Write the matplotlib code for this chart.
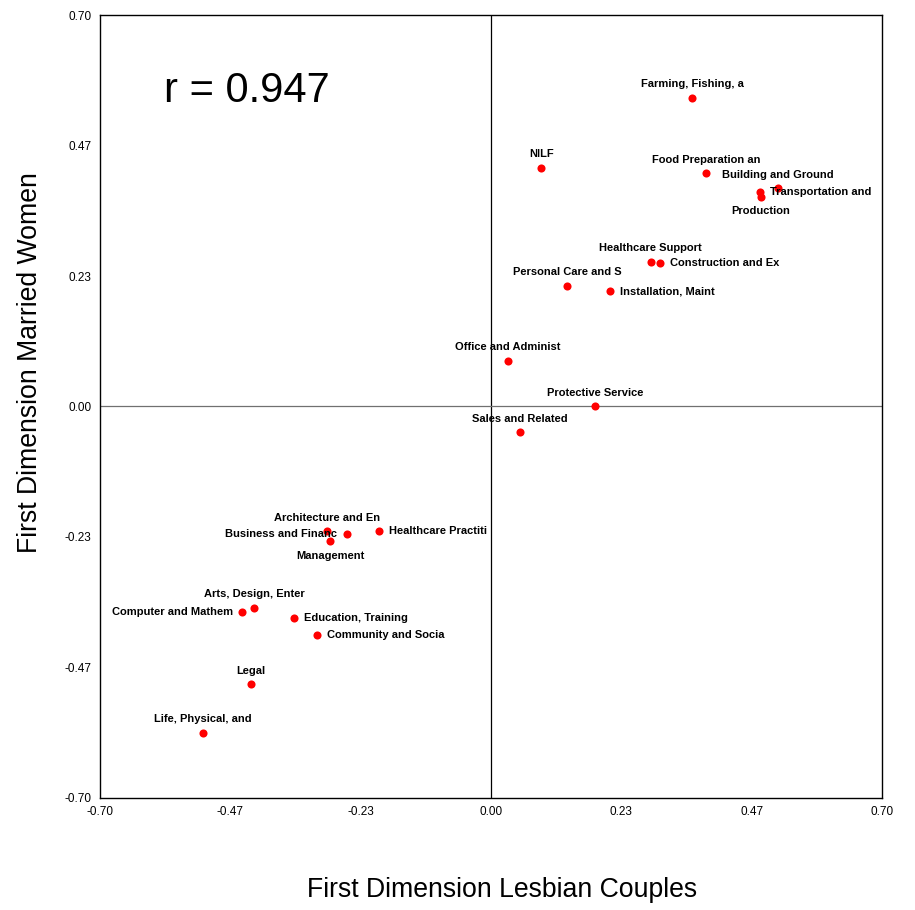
import numpy as np
import matplotlib
matplotlib.use("Agg")
import matplotlib.pyplot as plt

plt.rcParams['font.family'] = ['Liberation Sans', 'DejaVu Sans']

# occupation groups, lesbian couples (x) vs married women (y)
occupations = [
    "Farming, Fishing, a", "NILF", "Food Preparation an", "Building and Ground",
    "Transportation and", "Production", "Healthcare Support", "Construction and Ex",
    "Personal Care and S", "Installation, Maint", "Office and Administ",
    "Protective Service", "Sales and Related", "Architecture and En",
    "Business and Financ", "Management", "Healthcare Practiti",
    "Arts, Design, Enter", "Computer and Mathem", "Education, Training",
    "Community and Socia", "Legal", "Life, Physical, and",
]
lesbian = [0.360, 0.090, 0.385, 0.514, 0.482, 0.483, 0.286, 0.303, 0.136, 0.213,
           0.030, 0.186, 0.052, -0.294, -0.258, -0.288, -0.200, -0.424, -0.445,
           -0.352, -0.311, -0.430, -0.516]
married = [0.552, 0.427, 0.417, 0.390, 0.383, 0.375, 0.259, 0.256, 0.216, 0.206,
           0.082, 0.000, -0.046, -0.223, -0.228, -0.241, -0.222, -0.360, -0.368,
           -0.379, -0.408, -0.497, -0.583]
# where each label sits relative to its point
placement = ["above", "above", "above", "above", "right", "below", "above", "right",
             "above", "right", "above", "above", "above", "above", "left", "below",
             "right", "above", "left", "right", "right", "above", "above"]

r_value = 0.947
ticks = [-0.70, -0.47, -0.23, 0.00, 0.23, 0.47, 0.70]

fig = plt.figure(figsize=(9.15, 9.10), dpi=100)
ax = fig.add_axes([0.1093, 0.1231, 0.8547, 0.8604])

ax.axvline(0, color="black", lw=0.9, zorder=1)
ax.axhline(0, color="#707070", lw=0.9, zorder=1)
ax.scatter(lesbian, married, s=34, color="#ff0000", zorder=3, linewidths=0)

offsets = {"above": ((0, 6), "center", "bottom"),
           "below": ((0, -7), "center", "top"),
           "right": ((7, 0), "left", "center"),
           "left": ((-7, 0), "right", "center")}
for name, x, y, p in zip(occupations, lesbian, married, placement):
    off, ha, va = offsets[p]
    ax.annotate(name, (x, y), xytext=off, textcoords="offset points",
                ha=ha, va=va, fontsize=8, fontweight="bold", zorder=4)

tick_pos = np.array([-3, -2, -1, 0, 1, 2, 3]) * 0.7 / 3
ax.set_xlim(-0.7, 0.7)
ax.set_ylim(-0.7, 0.7)
ax.set_xticks(tick_pos)
ax.set_yticks(tick_pos)
ax.set_xticklabels([f"{t:.2f}" for t in ticks])
ax.set_yticklabels([f"{t:.2f}" for t in ticks])
ax.tick_params(length=0, labelsize=8.5, pad=6)
for sp in ax.spines.values():
    sp.set_linewidth(1.0)

fig.text(0.549, 0.022, "First Dimension Lesbian Couples", fontsize=19.2,
         ha="center", va="center")
fig.text(0.033, 0.602, "First Dimension Married Women", fontsize=19.2,
         ha="center", va="center", rotation=90)

ax.text(0.082, 0.903, f"r = {r_value}", transform=ax.transAxes, fontsize=30,
        ha="left", va="center")

fig.savefig("out.png", dpi=100)
